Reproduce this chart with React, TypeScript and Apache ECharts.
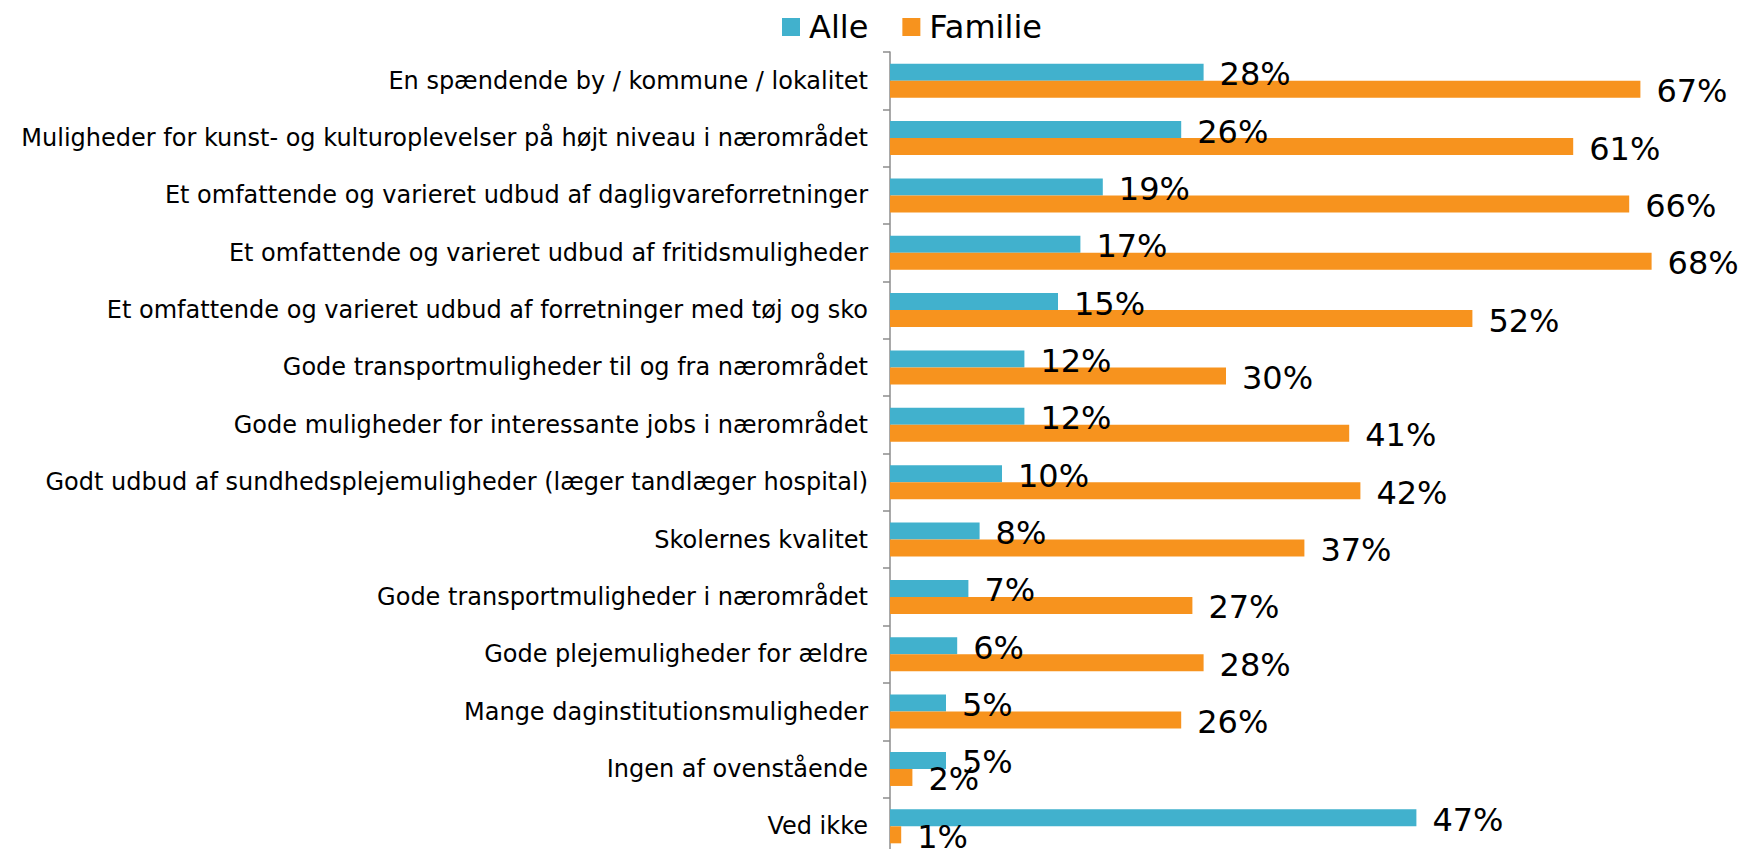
import React, { useEffect, useRef } from "react";
import * as echarts from "echarts";

const categories = [
  "En spændende by / kommune / lokalitet",
  "Muligheder for kunst- og kulturoplevelser på højt niveau i nærområdet",
  "Et omfattende og varieret udbud af dagligvareforretninger",
  "Et omfattende og varieret udbud af fritidsmuligheder",
  "Et omfattende og varieret udbud af forretninger med tøj og sko",
  "Gode transportmuligheder til og fra nærområdet",
  "Gode muligheder for interessante jobs i nærområdet",
  "Godt udbud af sundhedsplejemuligheder (læger tandlæger hospital)",
  "Skolernes kvalitet",
  "Gode transportmuligheder i nærområdet",
  "Gode plejemuligheder for ældre",
  "Mange daginstitutionsmuligheder",
  "Ingen af ovenstående",
  "Ved ikke",
];
const alle = [28, 26, 19, 17, 15, 12, 12, 10, 8, 7, 6, 5, 5, 47];
const familie = [67, 61, 66, 68, 52, 30, 41, 42, 37, 27, 28, 26, 2, 1];

const FONT = "DejaVu Sans";

export default function App() {
  const ref = useRef<HTMLDivElement>(null);
  useEffect(() => {
    if (!ref.current) return;
    const chart = echarts.init(ref.current, null, { renderer: "svg" });
    const labelCfg = {
      show: true,
      position: "right",
      distance: 16,
      offset: [0, 2],
      formatter: "{c}%",
      color: "#000",
      fontFamily: FONT,
      fontSize: 32,
    };
    chart.setOption({
      animation: false,
      legend: {
        top: 6,
        left: 777,
        itemWidth: 18,
        itemHeight: 18,
        itemGap: 34,
        icon: "rect",
        textStyle: { fontFamily: FONT, fontSize: 32, color: "#000", padding: [0, 0, 0, 4] },
        data: ["Alle", "Familie"],
      },
      grid: { left: 890, top: 52, width: 840, height: 803 },
      xAxis: {
        type: "value",
        min: 0,
        max: 75,
        show: false,
      },
      yAxis: {
        type: "category",
        inverse: true,
        data: categories,
        axisLine: { show: true, lineStyle: { color: "#8c8c8c", width: 1.5 } },
        axisTick: { show: true, length: 7, inside: false, lineStyle: { color: "#8c8c8c", width: 1.5 } },
        axisLabel: { fontFamily: FONT, fontSize: 24, color: "#000", margin: 22 },
      },
      series: [
        {
          name: "Alle",
          type: "bar",
          data: alle,
          barWidth: 17,
          barGap: "0%",
          itemStyle: { color: "#41B1CD" },
          label: labelCfg,
        },
        {
          name: "Familie",
          type: "bar",
          data: familie,
          barWidth: 17,
          barGap: "0%",
          itemStyle: { color: "#F7931E" },
          label: labelCfg,
        },
      ],
    });
    return () => chart.dispose();
  }, []);
  return (
    <div style={{ width: 1739, height: 849, position: "absolute", left: 0, top: 0, overflow: "hidden", background: "#fff" }}>
      <div ref={ref} style={{ width: 1739, height: 870 }} />
    </div>
  );
}
